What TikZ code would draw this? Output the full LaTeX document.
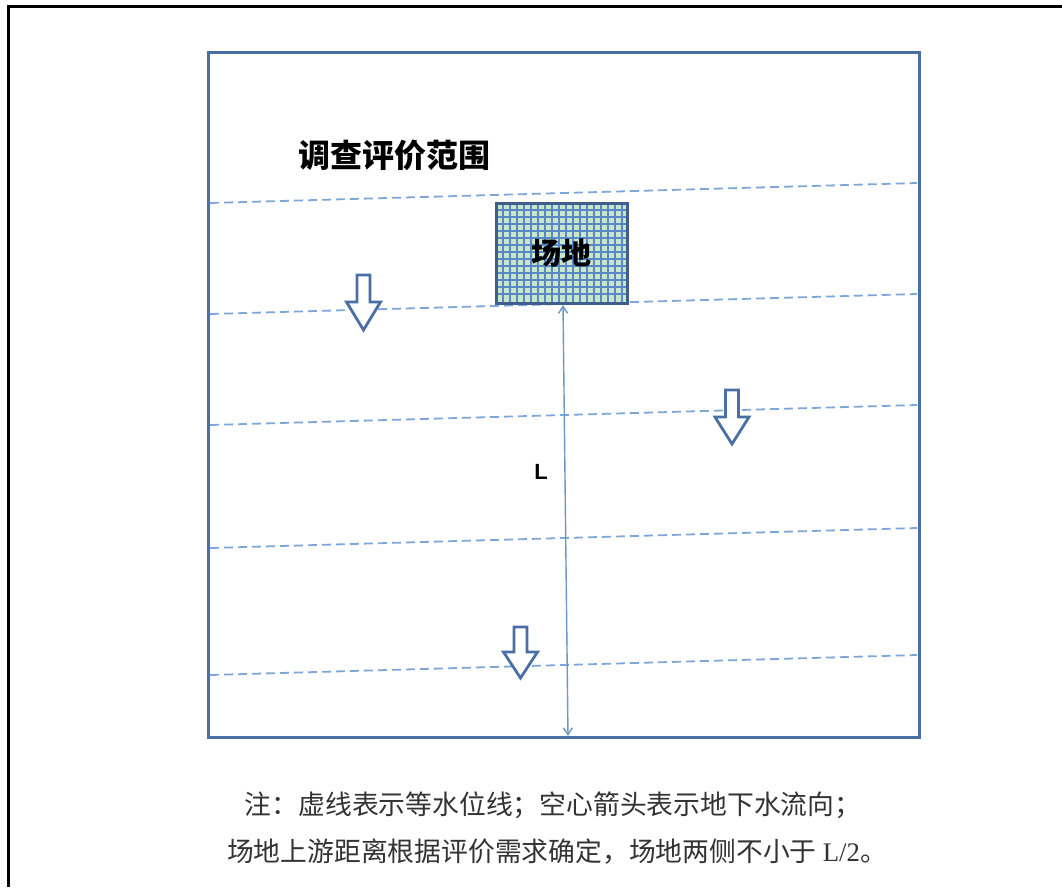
\documentclass[tikz,border=0pt]{standalone}
\usepackage{fontspec}
\newfontfamily\cjk{Noto Sans CJK SC}
\newfontfamily\latinsans{Liberation Sans}
\newfontfamily\latinserif{Liberation Serif}
\usetikzlibrary{arrows.meta}
\definecolor{frameblue}{HTML}{4A6FA5}
\definecolor{dashblue}{HTML}{7DA7D9}
\definecolor{gridblue}{HTML}{5A88C6}
\definecolor{sitegreen}{HTML}{C8E6C9}
\definecolor{notegray}{HTML}{333333}
\tikzset{
  outerframe/.style={black, line width=3},
  areaframe/.style={draw=frameblue, line width=3, inner sep=0},
  dashline/.style={dashblue, line width=1.8, dash pattern=on 9 off 5},
  blockarrow/.style={draw=frameblue, fill=white, line width=2.8, line join=miter},
  sitebox/.style={draw=frameblue!85!black, line width=3, inner sep=0, minimum width=131, minimum height=100},
  dimline/.style={dashblue!90!black, line width=1.4, {Straight Barb[length=7pt,width=9pt]}-{Straight Barb[length=7pt,width=9pt]}},
  titletext/.style={font=\cjk\bfseries\fontsize{32}{36}\selectfont},
  notetext/.style={font=\cjk\fontsize{26.8}{30}\selectfont, text=notegray},
}
\newcommand{\hollowarrow}[4]{%
  \draw[blockarrow] ({#1-6.5},#2) -- ({#1+6.5},#2) -- ({#1+6.5},#3) -- ({#1+17},#3) -- (#1,#4) -- ({#1-17},#3) -- ({#1-6.5},#3) -- cycle;}
\begin{document}
\begin{tikzpicture}[x=1pt,y=-1pt]
\useasboundingbox (0,0) rectangle (1062,887);
\fill[white] (0,0) rectangle (1062,887);
% outer (cropped) frame
\draw[outerframe] (1062,6) -- (8,6) -- (8,887);
% survey area frame
\node[areaframe, minimum width=711, minimum height=685] (frame) at (563.5,394.5) {};
% equipotential dashed lines
\foreach \yl/\yr in {203/183, 314/294, 425/405, 548/528, 675/655}
  \draw[dashline] (210,\yl) -- (917,\yr);
% title
\node[titletext, anchor=west] (title) at (295,155) {调查评价范围};
% site with grid pattern
\fill[sitegreen] (496,203) rectangle (627,303);
\foreach \gx in {503,510,...,623} \draw[gridblue, line width=1.1] (\gx,203) -- (\gx,303);
\foreach \gy in {210,217,...,300} \draw[gridblue, line width=1.1] (496,\gy) -- (627,\gy);
\node[sitebox, font=\cjk\bfseries\fontsize{30}{32}\selectfont] (site) at (561.5,253) {场地};
% flow arrows
\hollowarrow{363.5}{275}{302}{330}
\hollowarrow{732}{390}{417}{444}
\hollowarrow{520.5}{627}{652}{678}
% distance L
\coordinate (Ltop) at (563,305);
\coordinate (Lbot) at (568,736);
\draw[dimline] (Ltop) -- (Lbot);
\node[font=\latinsans\bfseries\fontsize{22}{26}\selectfont] (Llabel) at (541,472) {L};
% note
\node[notetext] (note1) at (553,805) {注：虚线表示等水位线；空心箭头表示地下水流向；};
\node[notetext] (note2) at (557,852) {场地上游距离根据评价需求确定，场地两侧不小于 {\latinserif L/2}。};
\end{tikzpicture}
\end{document}
